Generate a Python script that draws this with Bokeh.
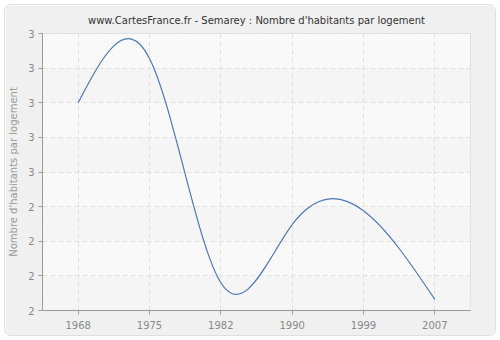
import numpy as np
from bokeh.plotting import figure
from bokeh.models import Range1d, FixedTicker, BoxAnnotation
from bokeh.embed import file_html
from bokeh.resources import INLINE

# ---- data ----
years = ["1968", "1975", "1982", "1990", "1999", "2007"]
values = [2.75, 2.91, 2.10, 2.31, 2.36, 2.04]
y_ticks = [2.0, 2.125, 2.25, 2.375, 2.5, 2.625, 2.75, 2.875, 3.0]
y_tick_labels = ["2", "2", "2", "2", "3", "3", "3", "3", "3"]
title_text = "www.CartesFrance.fr - Semarey : Nombre d'habitants par logement"
y_label = "Nombre d'habitants par logement"

x_idx = np.arange(len(years), dtype=float)
y = np.array(values, dtype=float)

# smooth (natural cubic spline) drawing via Bezier segments
n = len(y)
A = np.zeros((n, n))
r = np.zeros(n)
A[0, 0] = 1
A[-1, -1] = 1
for i in range(1, n - 1):
    A[i, i - 1] = 1
    A[i, i] = 4
    A[i, i + 1] = 1
    r[i] = 6 * (y[i + 1] - 2 * y[i] + y[i - 1])
M = np.linalg.solve(A, r)
d = y[1:] - y[:-1]
m0 = d - (2 * M[:-1] + M[1:]) / 6
m1 = d + (M[:-1] + 2 * M[1:]) / 6

p = figure(width=490, height=330,
           x_range=Range1d(-0.5, len(years) - 0.5), y_range=Range1d(y_ticks[0], y_ticks[-1]),
           output_backend="svg", toolbar_location=None,
           min_border_left=35, min_border_right=25, min_border_top=0, min_border_bottom=25,
           background_fill_color="white", border_fill_color="#f0f0f0",
           outline_line_color="#dddddd")
p.margin = (5, 5, 5, 5)
p.styles = {"border-radius": "6px", "overflow": "hidden", "box-shadow": "0 0 0 1px #dedede"}

p.title.text = title_text
p.title.align = "center"
p.title.text_font = "DejaVu Sans"
p.title.text_font_size = "10px"
p.title.text_font_style = "normal"
p.title.text_color = "#333333"
p.title.standoff = 15

# bands
for k in range(len(y_ticks) - 1):
    if k % 2 == 0:
        p.add_layout(BoxAnnotation(bottom=y_ticks[k], top=y_ticks[k + 1], fill_color="#f8f8f8",
                                   fill_alpha=1, line_alpha=0, level="image"))
p.add_layout(BoxAnnotation(fill_alpha=0, line_alpha=0, hatch_pattern="/", hatch_color="#f0f0f0",
                           hatch_scale=5, hatch_weight=1, level="image"))

p.bezier(x0=x_idx[:-1], y0=y[:-1], x1=x_idx[1:], y1=y[1:],
         cx0=x_idx[:-1] + 1 / 3, cy0=y[:-1] + m0 / 3,
         cx1=x_idx[1:] - 1 / 3, cy1=y[1:] - m1 / 3,
         line_color="#4a78b0", line_width=1.2)

p.xaxis.ticker = FixedTicker(ticks=list(x_idx))
p.xaxis.major_label_overrides = {int(i): yr for i, yr in zip(x_idx, years)}
p.yaxis.ticker = FixedTicker(ticks=y_ticks)
p.yaxis.major_label_overrides = {t: lab for t, lab in zip(y_ticks, y_tick_labels)}
p.yaxis.axis_label = y_label

for ax in (p.xaxis, p.yaxis):
    ax.axis_line_color = "#999999"
    ax.major_tick_line_color = "#999999"
    ax.minor_tick_line_color = None
    ax.major_tick_out = 4
    ax.major_tick_in = 0
    ax.major_label_text_color = "#888888"
    ax.major_label_text_font = "DejaVu Sans"
    ax.major_label_text_font_size = "10px"
    ax.axis_label_text_color = "#999999"
    ax.axis_label_text_font = "DejaVu Sans"
    ax.axis_label_text_font_size = "10px"
    ax.axis_label_text_font_style = "normal"
p.yaxis.major_label_standoff = 4
p.yaxis.axis_label_standoff = 6
p.xaxis.major_label_standoff = 6

p.xgrid.ticker = FixedTicker(ticks=list(x_idx))
p.ygrid.ticker = FixedTicker(ticks=y_ticks)
for g in (p.xgrid, p.ygrid):
    g.grid_line_color = "#e2e2e2"
    g.grid_line_dash = "5 3"
    g.grid_line_width = 1

open("out.html", "w").write(file_html(p, INLINE))
